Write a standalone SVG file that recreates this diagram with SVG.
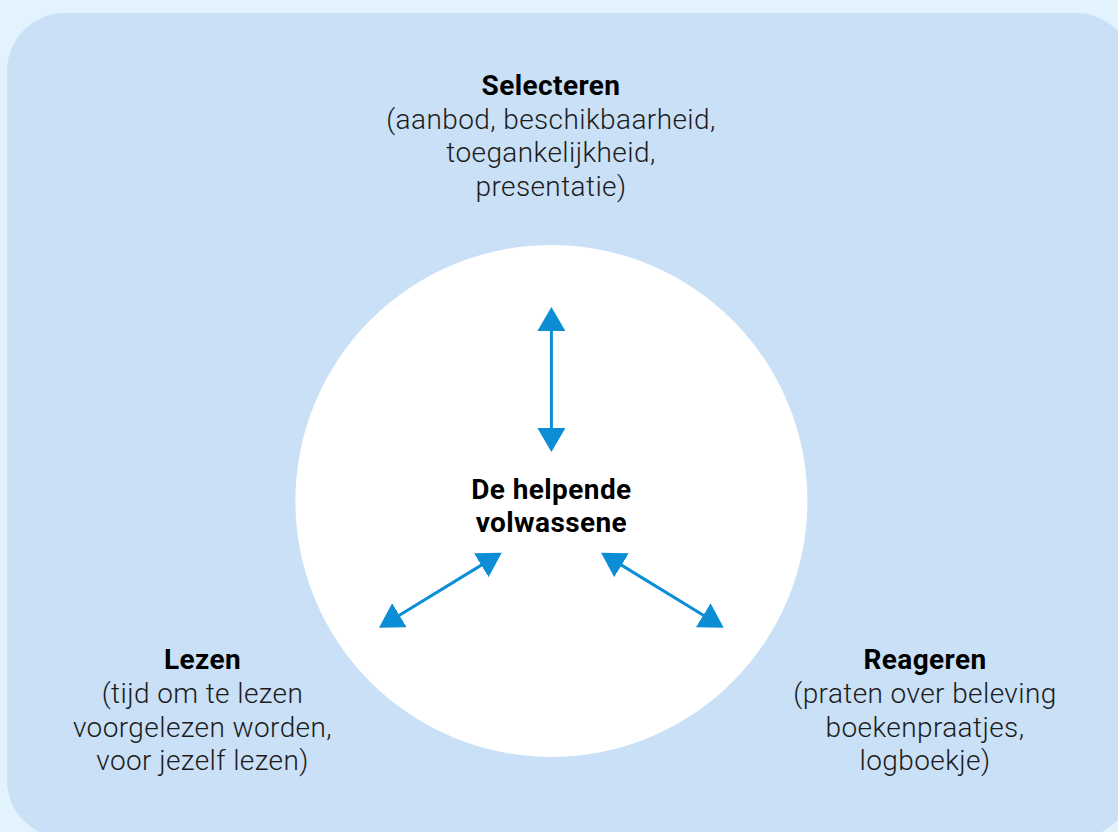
<svg xmlns="http://www.w3.org/2000/svg" width="1118" height="832" viewBox="0 0 1118 832">
  <style>
    .t { font-family: Roboto, "Noto Sans", "Liberation Sans", sans-serif; font-size: 28px; text-anchor: middle; fill: #1c1c1c; font-weight: 300; letter-spacing: 0.4px; }
    .b { font-weight: 700; fill: #000; }
    .conn { stroke: #0b8ed5; stroke-width: 3; fill: none; marker-start: url(#ah); marker-end: url(#ah); }
  </style>
  <defs>
    <marker id="ah" viewBox="0 0 24 28" refX="14" refY="14" markerWidth="24" markerHeight="28" markerUnits="userSpaceOnUse" orient="auto-start-reverse">
      <path d="M0,0 L24,14 L0,28 z" fill="#0b8ed5"/>
    </marker>
  </defs>
  <rect x="0" y="0" width="1118" height="832" fill="#e3f3fd"/>
  <rect x="7" y="13" width="1127" height="825" rx="58" ry="58" fill="#c9e0f6"/>
  <g id="center">
    <circle cx="551.4" cy="501" r="256" fill="#ffffff"/>
    <text class="t b" x="551.4" y="499.3">De helpende</text>
    <text class="t b" x="551.4" y="531.7">volwassene</text>
  </g>
  <g id="selecteren">
    <text class="t b" x="551" y="95">Selecteren</text>
    <text class="t" x="551" y="128.5">(aanbod, beschikbaarheid,</text>
    <text class="t" x="551" y="162">toegankelijkheid,</text>
    <text class="t" x="551" y="195.5">presentatie)</text>
  </g>
  <g id="lezen">
    <text class="t b" x="202.5" y="669">Lezen</text>
    <text class="t" x="202.5" y="703">(tijd om te lezen</text>
    <text class="t" x="202.5" y="736.5">voorgelezen worden,</text>
    <text class="t" x="202.5" y="770">voor jezelf lezen)</text>
  </g>
  <g id="reageren">
    <text class="t b" x="925" y="669">Reageren</text>
    <text class="t" x="925" y="703">(praten over beleving</text>
    <text class="t" x="925" y="736.5">boekenpraatjes,</text>
    <text class="t" x="925" y="770">logboekje)</text>
  </g>
  <g id="connectors">
    <line class="conn" x1="551.4" y1="442" x2="551.4" y2="317"/>
    <line class="conn" x1="493.2" y1="557.9" x2="387.5" y2="622.5"/>
    <line class="conn" x1="609.6" y1="557.9" x2="715.2" y2="622.5"/>
  </g>
</svg>
